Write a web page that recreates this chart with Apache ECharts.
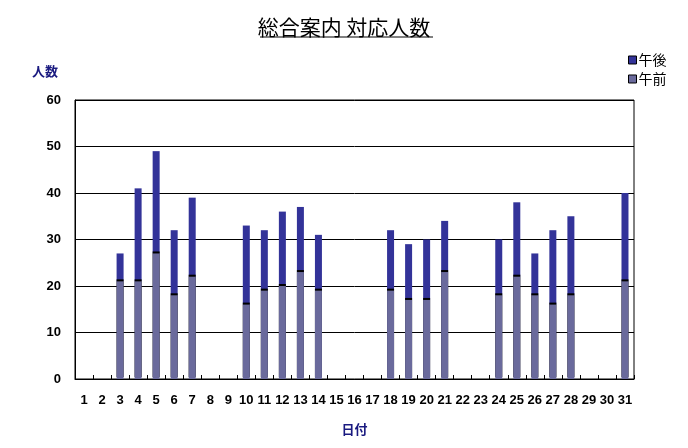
<!DOCTYPE html>
<html>
<head>
<meta charset="utf-8">
<script src="https://cdn.jsdelivr.net/npm/echarts@6/dist/echarts.min.js"></script>
<style>
html,body{margin:0;padding:0;background:#fff;}
#chart{width:688px;height:448px;}
</style>
</head>
<body>
<div id="chart"></div>
<script>
var days = ['1','2','3','4','5','6','7','8','9','10','11','12','13','14','15','16','17','18','19','20','21','22','23','24','25','26','27','28','29','30','31'];
// 午前 (morning) counts
var amValues = [0,0,21,21,27,18,22,0,0,16,19,20,23,19,0,0,0,19,17,17,23,0,0,18,22,18,16,18,0,0,21];
// 午後 (afternoon) counts
var pmValues = [0,0,6,20,22,14,17,0,0,17,13,16,14,12,0,0,0,13,12,13,11,0,0,12,16,9,16,17,0,0,19];
var yTicks = [0,10,20,30,40,50,60];

var FONT = "'Liberation Sans','Noto Sans CJK JP',sans-serif";
var JP = "'Noto Sans CJK JP',sans-serif";
var chart = echarts.init(document.getElementById('chart'));
chart.setOption({
  animation: false,
  backgroundColor: '#fff',
  title: {
    text: '総合案内 対応人数',
    left: 'center',
    top: 12,
    textStyle: {fontFamily: JP, fontSize: 21, fontWeight: 'normal', color: '#000'}
  },
  graphic: [{
    type: 'line',
    shape: {x1: 260, y1: 37, x2: 433, y2: 37},
    style: {stroke: '#000', lineWidth: 1}
  }],
  legend: {
    data: ['午後', '午前'],
    orient: 'vertical',
    left: 623,
    top: 48,
    itemWidth: 8,
    itemHeight: 8,
    itemGap: 5,
    icon: 'rect',
    itemStyle: {borderColor: '#000', borderWidth: 1, shadowColor: 'transparent', shadowOffsetY: 0},
    textStyle: {fontFamily: JP, fontSize: 14, color: '#000', padding: [0,0,0,-3]}
  },
  grid: {
    left: 75, right: 54, top: 100, bottom: 69,
    show: true, borderColor: '#000', borderWidth: 1
  },
  xAxis: {
    type: 'category',
    data: days,
    name: '日付',
    nameLocation: 'middle',
    nameGap: 44,
    nameTextStyle: {fontFamily: JP, fontSize: 13, fontWeight: 'bold', color: '#1a1a80'},
    axisLine: {lineStyle: {color: '#000', width: 1}},
    axisTick: {show: true, inside: true, length: 4, lineStyle: {color: '#000'}},
    axisLabel: {interval: 0, fontFamily: FONT, fontSize: 13, fontWeight: 'bold', color: '#000', margin: 15}
  },
  yAxis: {
    type: 'value',
    min: yTicks[0],
    max: yTicks[yTicks.length - 1],
    interval: 10,
    name: '人数',
    nameLocation: 'end',
    nameGap: 22,
    nameTextStyle: {fontFamily: JP, fontSize: 13, fontWeight: 'bold', color: '#1a1a80', align: 'right', padding: [0, 17, 0, 0]},
    axisLine: {show: true, lineStyle: {color: '#000', width: 1}},
    axisTick: {show: false},
    splitLine: {show: true, lineStyle: {color: '#000', width: 1}},
    axisLabel: {fontFamily: FONT, fontSize: 13, fontWeight: 'bold', color: '#000', margin: 14}
  },
  series: [{
    name: '午前',
    type: 'bar',
    stack: 'total',
    data: amValues,
    barWidth: 7,
    z: 3,
    itemStyle: {color: '#6a6a9c', shadowColor: '#000', shadowBlur: 0, shadowOffsetY: -2}
  }, {
    name: '午後',
    type: 'bar',
    stack: 'total',
    data: pmValues,
    barWidth: 7,
    z: 2,
    itemStyle: {color: '#333399'}
  }]
});
</script>
</body>
</html>
